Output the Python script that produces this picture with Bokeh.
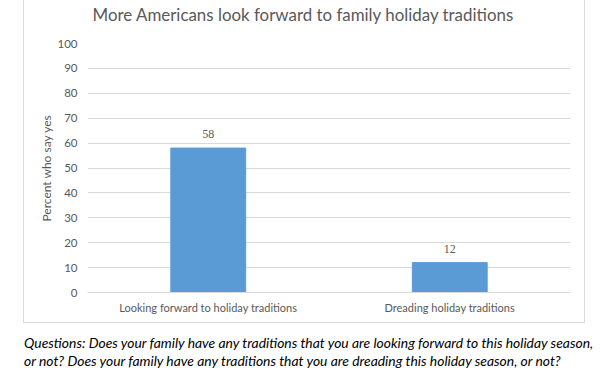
from bokeh.plotting import figure
from bokeh.models import (ColumnDataSource, FactorRange, Range1d, LabelSet, Title,
                          FixedTicker, InlineStyleSheet, Div)
from bokeh.layouts import column
from bokeh.embed import file_html
from bokeh.resources import INLINE

categories = ["Looking forward to holiday traditions", "Dreading holiday traditions"]
values = [58, 12]
value_labels = ["58", "12"]
y_ticks = [0, 10, 20, 30, 40, 50, 60, 70, 80, 90, 100]
title_text = "More Americans look forward to family holiday traditions"
y_label = "Percent who say yes"
note_lines = [
    "Questions: Does your family have any traditions that you are looking forward to this holiday season,",
    "or not? Does your family have any traditions that you are dreading this holiday season, or not?",
]

FONT = "Lato"
GRAY = "#595959"

src = ColumnDataSource(dict(cat=categories, val=values, lab=value_labels))

p = figure(width=612, height=323, x_range=FactorRange(*categories, range_padding=0),
           y_range=Range1d(0, 100), output_backend="svg", toolbar_location=None,
           min_border_left=87, min_border_right=42, min_border_top=43, min_border_bottom=31)
p.outline_line_color = None
p.stylesheets = [InlineStyleSheet(css=(
    ":host::after{content:'';position:absolute;left:23px;top:0px;width:562px;height:323px;"
    "border:1px solid #D9D9D9;border-top:none;box-sizing:border-box;pointer-events:none;}"))]

p.vbar(x="cat", top="val", width=0.31, source=src, color="#5B9BD5")
p.add_layout(LabelSet(x="cat", y="val", text="lab", source=src, text_align="center",
                      text_baseline="bottom", y_offset=10, text_font=FONT,
                      text_font_size="12px", text_color=GRAY))

# trailing empty line lifts the title away from the plot frame
t = Title(text=title_text + "\n", align="left", offset=5, text_font=FONT,
          text_font_size="16.9px", text_font_style="normal", text_color=GRAY,
          text_line_height=0.85, standoff=1)
p.add_layout(t, "above")

p.yaxis.ticker = FixedTicker(ticks=y_ticks)
p.yaxis.axis_label = y_label
p.yaxis.axis_label_text_font = FONT
p.yaxis.axis_label_text_font_size = "12px"
p.yaxis.axis_label_text_font_style = "normal"
p.yaxis.axis_label_text_color = GRAY
p.yaxis.axis_label_standoff = 0
p.yaxis.axis_line_color = None
p.yaxis.major_tick_line_color = None
p.yaxis.minor_tick_line_color = None
p.yaxis.major_label_standoff = 4
p.axis.major_label_text_font = FONT
p.axis.major_label_text_font_size = "11.5px"
p.axis.major_label_text_color = GRAY
p.xaxis.axis_line_color = "#D9D9D9"
p.xaxis.major_tick_line_color = None
p.xaxis.major_label_standoff = 2
p.xaxis.major_label_text_font_size = "11px"
p.xgrid.grid_line_color = None
p.ygrid.grid_line_color = "#D9D9D9"

note = Div(text="<br>".join(note_lines), width=612, height=51, margin=(0, 0, 0, 0), styles={
    "font-family": "Lato", "font-style": "italic", "font-size": "13.9px", "color": "#000000",
    "line-height": "18px", "padding-left": "24px", "padding-top": "11px",
    "white-space": "nowrap", "box-sizing": "border-box"})

layout = column(p, note, spacing=0)
open("out.html", "w").write(file_html(layout, INLINE))
